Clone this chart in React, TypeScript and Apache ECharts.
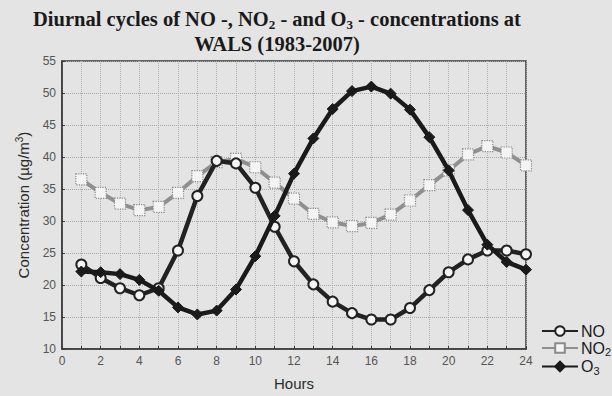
import React, { useEffect, useRef } from "react";
import * as echarts from "echarts";

const hours = [1, 2, 3, 4, 5, 6, 7, 8, 9, 10, 11, 12, 13, 14, 15, 16, 17, 18, 19, 20, 21, 22, 23, 24];
const noValues = [23.2, 21.1, 19.5, 18.4, 19.5, 25.4, 33.9, 39.4, 39.0, 35.2, 29.1, 23.7, 20.1, 17.4, 15.6, 14.6, 14.6, 16.4, 19.2, 22.0, 24.0, 25.4, 25.4, 24.8];
const no2Values = [36.5, 34.4, 32.7, 31.7, 32.2, 34.4, 37.0, 39.2, 39.7, 38.4, 36.0, 33.5, 31.1, 29.8, 29.2, 29.7, 31.0, 33.2, 35.6, 37.9, 40.4, 41.7, 40.7, 38.7];
const o3Values = [22.1, 22.0, 21.7, 20.8, 19.1, 16.5, 15.4, 16.0, 19.3, 24.5, 30.8, 37.4, 42.9, 47.5, 50.3, 51.0, 49.9, 47.4, 43.1, 37.9, 31.7, 26.3, 23.6, 22.4];

const seriesNames = ["NO", "NO2", "O3"];
const legendLabels: Record<string, string> = { NO: "NO", NO2: "NO{s|2}", O3: "O{s|3}" };

export default function App() {
  const ref = useRef<HTMLDivElement>(null);
  useEffect(() => {
    if (!ref.current) return;
    const chart = echarts.init(ref.current, undefined, { renderer: "svg" });
    const pair = (vals: number[]) => hours.map((h, i) => [h, vals[i]]);
    chart.setOption({
      animation: false,
      backgroundColor: "#e4e4e4",
      graphic: [
        {
          type: "text",
          x: 277,
          y: 6,
          style: {
            text: "Diurnal cycles of NO -, NO{sub|2} - and O{sub|3} - concentrations at\nWALS (1983-2007)",
            font: "bold 20.5px 'Liberation Serif', 'Times New Roman', serif",
            fill: "#1a1a1a",
            align: "center",
            lineHeight: 25,
            rich: {
              sub: {
                fontSize: 13,
                fontWeight: "bold",
                fontFamily: "'Liberation Serif', serif",
                fill: "#1a1a1a",
                verticalAlign: "bottom",
                lineHeight: 25,
                padding: [7, 0, 0, 0],
              },
            },
          },
        },
      ],
      grid: { left: 62, right: 86, top: 61, bottom: 43, show: true, borderColor: "#3a3a3a", borderWidth: 1.5, backgroundColor: "transparent" },
      legend: {
        orient: "vertical",
        left: 536,
        top: 318,
        itemWidth: 36,
        itemHeight: 12,
        itemGap: 1,
        data: seriesNames,
        formatter: (n: string) => legendLabels[n],
        textStyle: {
          fontSize: 16,
          color: "#1a1a1a",
          padding: [0, 0, 0, -2],
          fontFamily: "'Liberation Sans', Arial, sans-serif",
          rich: { s: { fontSize: 11, verticalAlign: "bottom", padding: [8, 0, 0, 0], color: "#1a1a1a" } },
        },
      },
      xAxis: {
        type: "value",
        min: 0,
        max: 24,
        interval: 1,
        name: "Hours",
        nameLocation: "middle",
        nameGap: 27,
        nameTextStyle: { fontSize: 15, color: "#2a2a2a", fontFamily: "'Liberation Sans', Arial, sans-serif" },
        axisLine: { show: true, lineStyle: { color: "#3a3a3a", width: 1.5 } },
        axisTick: { show: true, inside: true, length: 3, lineStyle: { color: "#3a3a3a" } },
        axisLabel: {
          formatter: (v: number) => (v % 2 === 0 ? String(v) : ""),
          fontSize: 12,
          color: "#555",
          margin: 6,
          fontFamily: "'Liberation Sans', Arial, sans-serif",
        },
        splitLine: { show: true, lineStyle: { color: "#b0b0b0", type: "dotted", width: 1 } },
      },
      yAxis: {
        type: "value",
        min: 10,
        max: 55,
        interval: 5,
        name: "Concentration (µg/m{sup|3})",
        nameLocation: "middle",
        nameGap: 30,
        nameRotate: 90,
        nameTextStyle: {
          fontSize: 15,
          color: "#2a2a2a",
          fontFamily: "'Liberation Sans', Arial, sans-serif",
          rich: { sup: { fontSize: 10, verticalAlign: "top", padding: [0, 0, 8, 0], color: "#2a2a2a" } },
        },
        axisLine: { show: true, lineStyle: { color: "#3a3a3a", width: 1.5 } },
        axisTick: { show: true, inside: true, length: 3, lineStyle: { color: "#3a3a3a" } },
        axisLabel: { fontSize: 12, color: "#555", margin: 6, fontFamily: "'Liberation Sans', Arial, sans-serif" },
        splitLine: { show: true, lineStyle: { color: "#a8a8a8", type: "dotted", width: 1 } },
      },
      series: [
        {
          name: "NO2",
          type: "line",
          data: pair(no2Values),
          symbol: "rect",
          symbolSize: 11,
          lineStyle: { color: "#8f8f8f", width: 4 },
          itemStyle: { color: "#f4f4f4", borderColor: "#8a8a8a", borderWidth: 1.2, borderType: "dotted" },
          z: 2,
        },
        {
          name: "NO",
          type: "line",
          data: pair(noValues),
          symbol: "circle",
          symbolSize: 10,
          lineStyle: { color: "#222", width: 4.5 },
          itemStyle: { color: "#f4f4f4", borderColor: "#222", borderWidth: 2 },
          z: 3,
        },
        {
          name: "O3",
          type: "line",
          data: pair(o3Values),
          symbol: "diamond",
          symbolSize: 11,
          lineStyle: { color: "#1a1a1a", width: 4.5 },
          itemStyle: { color: "#1a1a1a", borderColor: "#1a1a1a", borderWidth: 1 },
          z: 4,
        },
      ],
    });
    return () => chart.dispose();
  }, []);
  return <div ref={ref} style={{ width: 612, height: 396, position: "absolute", left: 0, top: 0 }} />;
}
